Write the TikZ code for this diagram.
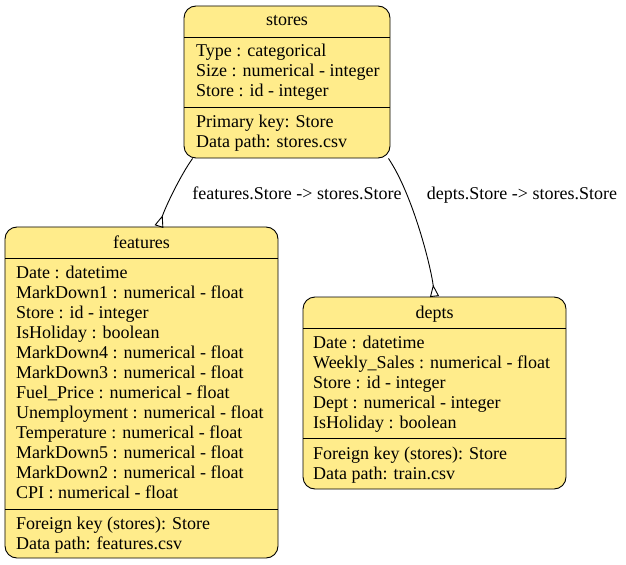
\documentclass[tikz,border=0pt]{standalone}
\usepackage{fontspec}
\setmainfont{Liberation Serif}
\usepackage{tikz}
\usepackage{xcolor}
\usetikzlibrary{arrows.meta}
\definecolor{tblfill}{HTML}{FFEC8B}
\tikzset{
  tbl/.style={draw, line width=0.9pt, fill=tblfill, rounded corners=12bp, inner sep=0pt},
  fld/.style={anchor=base west, inner sep=0pt},
  ttl/.style={anchor=base, inner sep=0pt},
  sep/.style={line width=0.9pt},
  fk/.style={line width=0.9pt, -{Triangle[open,reversed,length=12bp,width=9bp]}}
}

\begin{document}
\begin{tikzpicture}[x=1bp, y=-1bp, font=\fontsize{18bp}{21bp}\selectfont]
\useasboundingbox (0,0) rectangle (626,565);
% stores
\node[tbl, minimum width=206bp, minimum height=152bp] (stores) at (287,82) {};
\node[ttl] (storesT) at (287,26) {stores};
\draw[sep] (184,37) -- (390,37);
\draw[sep] (184,107) -- (390,107);
\foreach \txt [count=\i] in {Type : categorical, Size : numerical - integer, Store : id - integer}
  \node[fld] (s\i) at (196,37+20*\i) {\txt};
\node[fld] (sPK) at (196,128) {Primary key: Store};
\node[fld] (sDP) at (196,148) {Data path: stores.csv};
% features
\node[tbl, minimum width=273bp, minimum height=331bp] (features) at (141.5,392.5) {};
\node[ttl] (featuresT) at (141.5,248) {features};
\draw[sep] (5,258) -- (278,258);
\draw[sep] (5,509) -- (278,509);
\foreach \txt [count=\i] in {Date : datetime, MarkDown1 : numerical - float, Store : id - integer,
  IsHoliday : boolean, MarkDown4 : numerical - float, MarkDown3 : numerical - float,
  Fuel\_Price : numerical - float, Unemployment : numerical - float, Temperature : numerical - float,
  MarkDown5 : numerical - float, MarkDown2 : numerical - float, CPI : numerical - float}
  \node[fld] (f\i) at (16,258+20*\i) {\txt};
\node[fld] (fFK) at (16,529) {Foreign key (stores): Store};
\node[fld] (fDP) at (16,549) {Data path: features.csv};
% depts
\node[tbl, minimum width=263bp, minimum height=192bp] (depts) at (434.5,393) {};
\node[ttl] (deptsT) at (434.5,318) {depts};
\draw[sep] (303,328) -- (566,328);
\draw[sep] (303,438) -- (566,438);
\foreach \txt [count=\i] in {Date : datetime, Weekly\_Sales : numerical - float, Store : id - integer,
  Dept : numerical - integer, IsHoliday : boolean}
  \node[fld] (d\i) at (313,328+20*\i) {\txt};
\node[fld] (dFK) at (313,459) {Foreign key (stores): Store};
\node[fld] (dDP) at (313,479) {Data path: train.csv};
% relations
\draw[fk] (stores.219) .. controls (180,176) and (165,208) .. (features.84);
\node[ttl] (relF) at (297,199) {features.Store -> stores.Store};
\draw[fk] (stores.323) .. controls (413,195) and (431,267) .. (depts.north);
\node[ttl] (relD) at (522,199) {depts.Store -> stores.Store};
\end{tikzpicture}
\end{document}
